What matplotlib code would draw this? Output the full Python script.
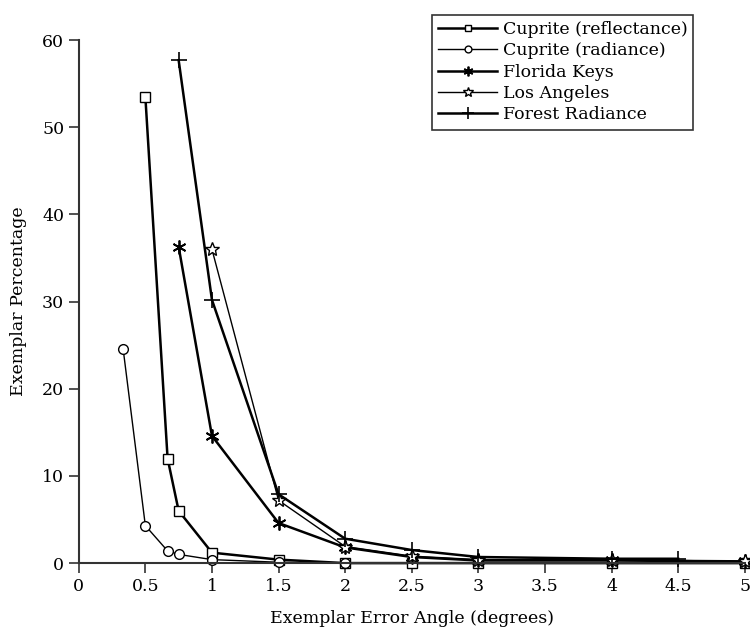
import matplotlib.pyplot as plt

plt.rcParams['font.family'] = ['DejaVu Serif']

# exemplar error angle (degrees) vs exemplar percentage
refl_x = [0.5, 0.667, 0.75, 1, 1.5, 2, 2.5, 3, 4, 5]
refl_y = [53.5, 12.0, 6.0, 1.2, 0.4, 0.0, 0.0, 0.0, 0.0, 0.0]

rad_x = [0.333, 0.5, 0.667, 0.75, 1, 1.5, 2]
rad_y = [24.6, 4.3, 1.4, 1.0, 0.4, 0.1, 0.0]

fk_x = [0.75, 1, 1.5, 2, 2.5, 3, 4, 5]
fk_y = [36.3, 14.6, 4.6, 1.8, 0.7, 0.3, 0.3, 0.2]

la_x = [1, 1.5, 2, 2.5, 3, 4, 5]
la_y = [36.0, 7.2, 1.9, 0.8, 0.4, 0.4, 0.2]

fr_x = [0.75, 1, 1.5, 2, 2.5, 3, 4, 4.5]
fr_y = [57.7, 30.2, 7.9, 2.8, 1.5, 0.7, 0.5, 0.5]

fig = plt.figure(figsize=(7.5, 6.37), dpi=100)
ax = fig.add_axes([0.105, 0.116, 0.888, 0.821])

ax.plot(refl_x, refl_y, color='black', lw=1.8, marker='s', ms=7, mfc='white',
        mew=1.0, label='Cuprite (reflectance)', clip_on=False)
ax.plot(rad_x, rad_y, color='black', lw=1.0, marker='o', ms=7, mfc='white',
        mew=1.0, label='Cuprite (radiance)', clip_on=False)
ax.plot(fk_x, fk_y, color='black', lw=1.8, marker=(6, 2, 0), ms=10,
        mew=1.3, label='Florida Keys', clip_on=False)
ax.plot(la_x, la_y, color='black', lw=1.0, marker='*', ms=10, mfc='white',
        mew=1.0, label='Los Angeles', clip_on=False)
ax.plot(fr_x, fr_y, color='black', lw=1.8, marker='+', ms=12,
        mew=1.2, label='Forest Radiance', clip_on=False)

ax.set_xlim(0, 5)
ax.set_ylim(0, 60)
ax.set_xticks([0, 0.5, 1, 1.5, 2, 2.5, 3, 3.5, 4, 4.5, 5])
ax.set_xticklabels(['0', '0.5', '1', '1.5', '2', '2.5', '3', '3.5', '4', '4.5', '5'])
ax.set_yticks([0, 10, 20, 30, 40, 50, 60])
ax.tick_params(labelsize=12.5, length=7, width=1.2, color='#333333')

ax.spines['top'].set_visible(False)
ax.spines['right'].set_visible(False)
ax.spines['left'].set_linewidth(1.5)
ax.spines['bottom'].set_linewidth(1.5)
ax.spines['left'].set_color('#333333')
ax.spines['bottom'].set_color('#333333')

ax.set_xlabel('Exemplar Error Angle (degrees)', fontsize=12.5, labelpad=11)
ax.set_ylabel('Exemplar Percentage', fontsize=12.5, labelpad=11)

leg = ax.legend(loc='upper right', bbox_to_anchor=(0.923, 1.048),
                fontsize=12.5, handlelength=3.4, handletextpad=0.3,
                borderpad=0.35, labelspacing=0.25, markerscale=0.7,
                fancybox=False, framealpha=1, edgecolor='#333333',
                borderaxespad=0)
leg.get_frame().set_linewidth(1.2)

fig.savefig('out.png')
